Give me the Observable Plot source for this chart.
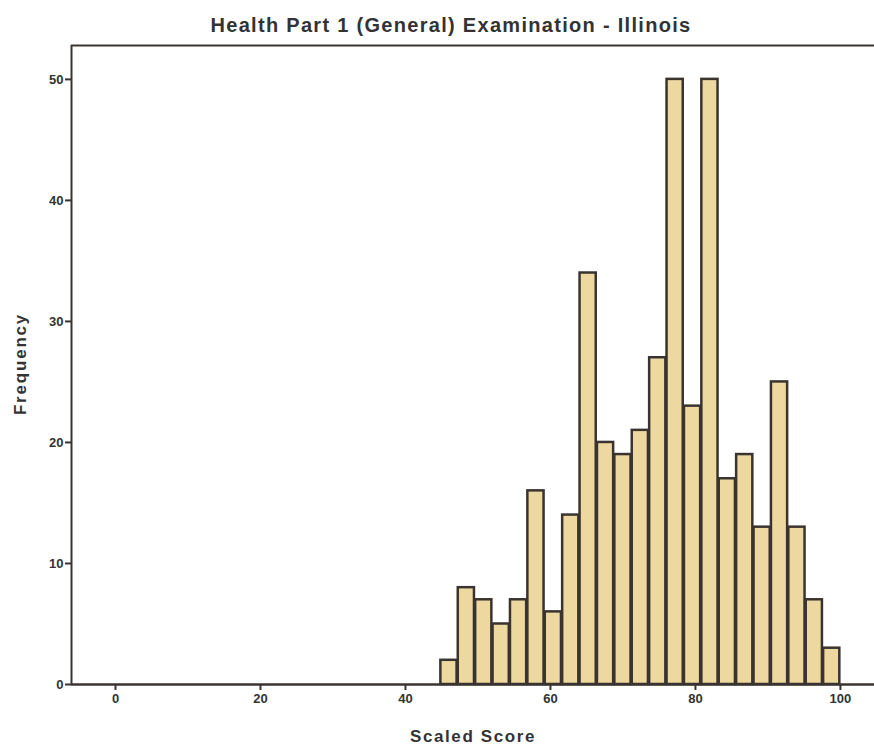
<!DOCTYPE html>
<html>
<head>
<meta charset="utf-8">
<script src="https://cdn.jsdelivr.net/npm/d3@7"></script>
<script src="https://cdn.jsdelivr.net/npm/@observablehq/plot@0.6"></script>
<style>
  html, body { margin: 0; padding: 0; background: #fff; }
  #wrap { position: relative; width: 874px; height: 748px; font-family: "Liberation Sans", Arial, sans-serif; }
  #title { position: absolute; top: 14px; left: 0; width: 902px; text-align: center; font-size: 20px; font-weight: bold; color: #333; letter-spacing: 1.3px; }
  #ylab { position: absolute; left: 21px; top: 364px; transform: translate(-50%, -50%) rotate(-90deg); font-size: 17px; font-weight: bold; color: #333; white-space: nowrap; letter-spacing: 1.8px; }
  #xlab { position: absolute; top: 727px; left: 410px; font-size: 17px; font-weight: bold; color: #333; white-space: nowrap; letter-spacing: 1.6px; }
  svg { position: absolute; left: 0; top: 0; }
</style>
</head>
<body>
<div id="wrap">
  <div id="chart"></div>
  <div id="title">Health Part 1 (General) Examination - Illinois</div>
  <div id="ylab">Frequency</div>
  <div id="xlab">Scaled Score</div>
</div>
<script>
// Bin edges of the histogram (scaled score)
const binEdges = [44.8, 47.2, 49.6, 52.0, 54.4, 56.8, 59.2, 61.6, 64.0, 66.4, 68.8, 71.2,
                  73.6, 76.0, 78.4, 80.8, 83.2, 85.6, 88.0, 90.4, 92.8, 95.2, 97.6, 100.0];
// Frequency per bin
const counts = [2, 8, 7, 5, 7, 16, 6, 14, 34, 20, 19, 21, 27, 50, 23, 50, 17, 19, 13, 25, 13, 7, 3];
const xTicks = [0, 20, 40, 60, 80, 100];
const yTicks = [0, 10, 20, 30, 40, 50];

const bins = counts.map((c, i) => ({x1: binEdges[i], x2: binEdges[i + 1], count: c}));

const xDomain = [-6.07, 104.7];
const yDomain = [0, 52.8];
const ink = "#3a3431";

const chart = Plot.plot({
  width: 874,
  height: 748,
  marginLeft: 71,
  marginRight: 0,
  marginTop: 45,
  marginBottom: 64,
  style: {fontFamily: "Liberation Sans, Arial, sans-serif", fontSize: "13px", fontWeight: "bold", color: "#333", background: "transparent"},
  x: {domain: xDomain},
  y: {domain: yDomain},
  marks: [
    Plot.rectY(bins, {x1: "x1", x2: "x2", y: "count", fill: "#edd89f", stroke: ink, strokeWidth: 2.5, insetLeft: 0.6, insetRight: 0.6}),
    Plot.ruleY([yDomain[1]], {stroke: ink, strokeWidth: 2}),
    Plot.ruleX([xDomain[0]], {stroke: ink, strokeWidth: 2}),
    Plot.ruleY([0], {stroke: ink, strokeWidth: 2.5}),
    Plot.axisY({ticks: yTicks, tickSize: 6, tickPadding: 2, stroke: ink, strokeWidth: 2, label: null, fontWeight: "bold", fontSize: 13}),
    Plot.axisX({ticks: xTicks, tickSize: 6, tickPadding: 3, stroke: ink, strokeWidth: 2, label: null, fontWeight: "bold", fontSize: 13})
  ]
});
document.getElementById("chart").appendChild(chart);
</script>
</body>
</html>
